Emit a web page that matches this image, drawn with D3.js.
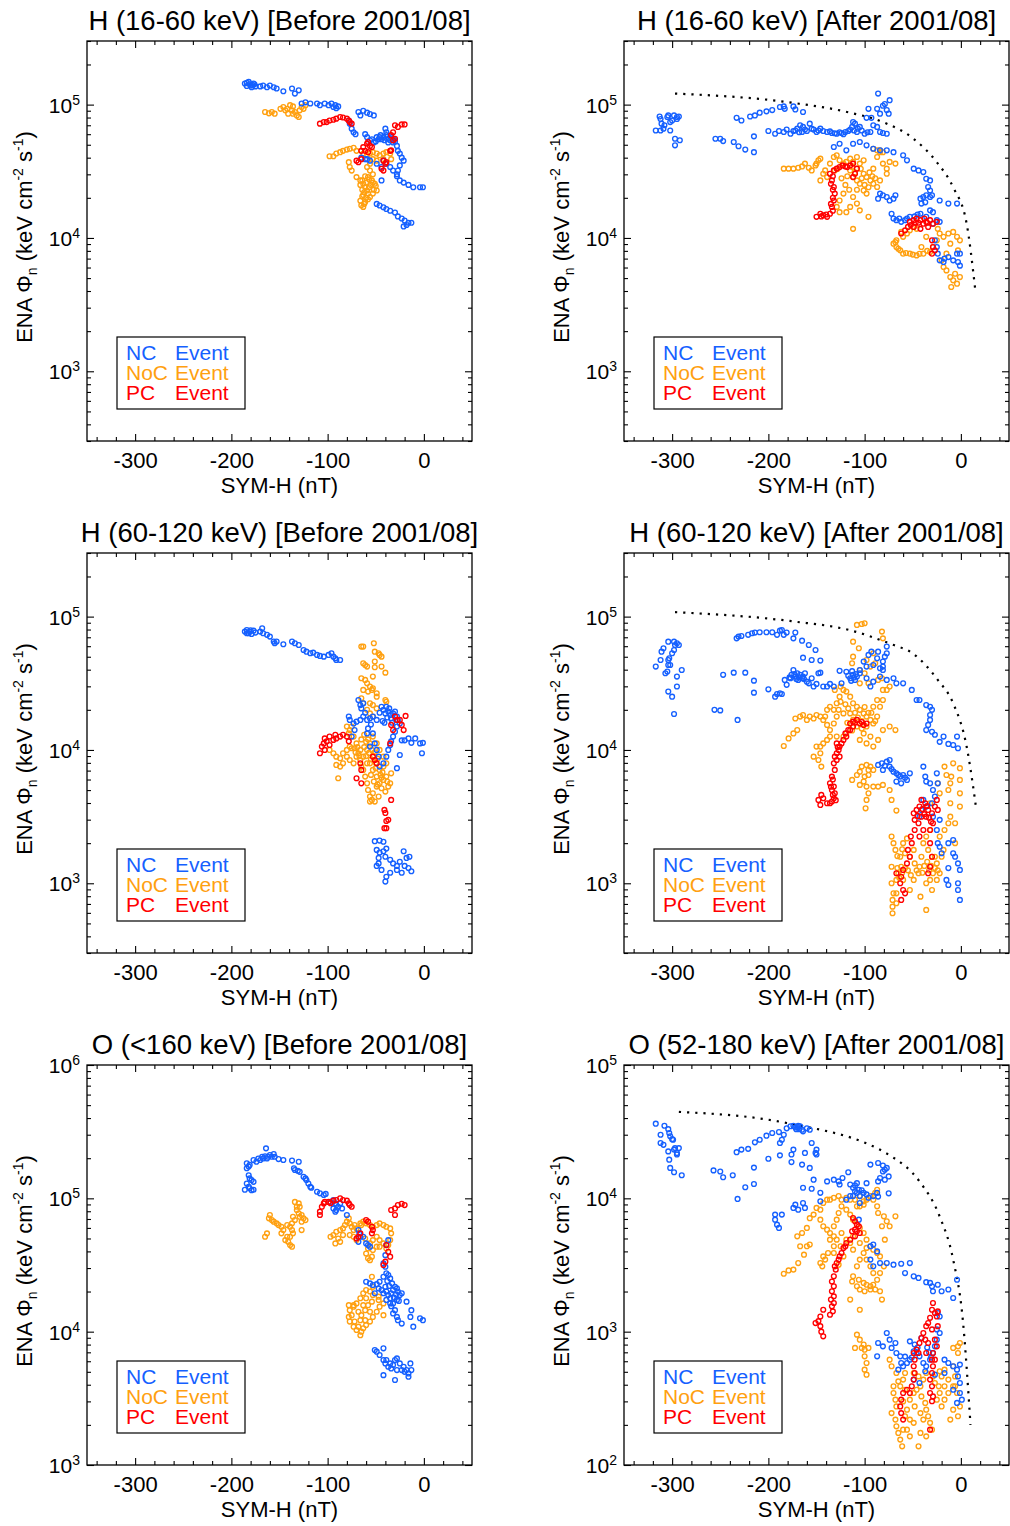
<!DOCTYPE html>
<html>
<head>
<meta charset="utf-8">
<script src="https://cdn.jsdelivr.net/npm/d3@7"></script>
<style>
  body { margin: 0; background: #fff; }
  text { font-family: "Liberation Sans", Arial, Helvetica, sans-serif; }
</style>
</head>
<body>
<svg id="chart"></svg>
<script>
// ---- axis values ----
const symDomain = [-350, 50];
const symTicks = [-300, -200, -100, 0];
const fluxDomainH = [300, 3e5];
const fluxTicksH = [1e3, 1e4, 1e5];
const fluxDomainOBefore = [1e3, 1e6];
const fluxTicksOBefore = [1e3, 1e4, 1e5, 1e6];
const fluxDomainOAfter = [1e2, 1e5];
const fluxTicksOAfter = [1e2, 1e3, 1e4, 1e5];

const legendLabels = ["NC", "NoC", "PC"];
const legendSuffix = "Event";

// ---- upper envelope (dotted) in the "After" panels: [SYM-H, flux] ----
const hLoAfterLimit = [[-297,1.21e5],[-174,1.03e5],[-115,8.7e4],[-81,7.4e4],[-50,5.6e4],[-25,3.7e4],[-8,2.4e4],[6,1.28e4],[15,4.05e3]];
const hHiAfterLimit = [[-297,1.08e5],[-174,9.2e4],[-115,7.9e4],[-72,6.2e4],[-50,5.3e4],[-24,3.35e4],[-8,2.24e4],[6,1.06e4],[16,3.6e3]];
const oAfterLimit = [[-293,4.45e4],[-181,3.67e4],[-72,2.06e4],[-43,1.34e4],[-22,7.3e3],[-8,3.47e3],[2,1.23e3],[10,200]];

// ---- H 16-60 keV, before 2001/08: [SYM-H (nT), ENA flux] ----
const hLoBeforeNC = [[-186,1.44e5],[-184,1.46e5],[-182,1.48e5],[-181,1.42e5],[-180,1.39e5],[-179,1.35e5],[-178,1.4e5],[-177,1.44e5],[-176,1.42e5],[-175,1.37e5],[-184,1.38e5],[-170,1.37e5],[-167,1.39e5],[-163,1.35e5],[-160,1.39e5],[-156,1.35e5],[-153,1.32e5],[-146,1.26e5],[-137,1.32e5],[-134,1.21e5],[-130,1.28e5],[-127,1.02e5],[-123,1.04e5],[-118,1.02e5],[-111,1.02e5],[-108,9.9e4],[-103,1.02e5],[-99,9.9e4],[-96,1.02e5],[-94,9.6e4],[-92,9.9e4],[-91,9.4e4],[-89,9.7e4],
[-68,8.8e4],[-66,8.3e4],[-63,9e4],[-59,8.7e4],[-56,8.5e4],[-52,8.3e4],[-78,7.6e4],[-77,7.2e4],[-75,6.6e4],[-73,6.2e4],[-71,6e4],
[-61,6e4],[-59,5.7e4],[-56,5.4e4],[-54,5.5e4],[-52,5.2e4],[-50,5.3e4],[-49,5.7e4],[-47,5.5e4],[-46,5.7e4],[-44,5.5e4],[-42,5.7e4],[-41,5.4e4],[-40,6.6e4],[-39,6.2e4],[-39,5.9e4],[-37,5.2e4],[-36,5.6e4],[-35,5.4e4],[-33,5.5e4],[-32,5.2e4],[-30,5.3e4],[-28,4.9e4],[-27,4.5e4],[-25,4.3e4],[-23,4e4],[-21,3.8e4],[-25,3.5e4],[-27,3.2e4],[-28,3e4],
[-45,5.9e4],[-38,5.5e4],[-34,5.7e4],[-31,5.5e4],
[-42,3.8e4],[-39,3.6e4],[-35,3.4e4],[-32,3.2e4],[-28,2.9e4],[-25,2.7e4],[-21,2.6e4],[-16,2.5e4],[-11,2.4e4],[-4,2.4e4],[-1,2.4e4],
[-49,1.8e4],[-46,1.75e4],[-42,1.7e4],[-39,1.65e4],[-35,1.6e4],[-30,1.55e4],[-27,1.45e4],[-23,1.4e4],[-20,1.35e4],[-16,1.3e4],[-18,1.25e4],[-13,1.3e4],[-21,1.22e4],
[-65,4e4],[-61,3.9e4],[-56,3.8e4],[-49,3.6e4],[-44,3.4e4],[-59,3.9e4],[-44,2.7e4]];
const hLoBeforeNoC = [[-165,8.8e4],[-161,8.6e4],[-158,8.8e4],[-155,8.55e4],[-149,9.3e4],[-146,9.6e4],[-142,9.3e4],[-139,9.9e4],[-137,9.06e4],[-136,9.7e4],[-134,8.8e4],[-132,8.3e4],[-130,8.07e4],[-129,9.06e4],[-127,9.6e4],[-125,9.3e4],[-123,9.9e4],[-136,8.55e4],[-141,8.55e4],[-144,9.06e4],
[-98,4.1e4],[-94,4.1e4],[-91,4.3e4],[-87,4.4e4],[-84,4.5e4],[-80,4.6e4],[-77,4.67e4],[-73,4.75e4],[-70,4.5e4],
[-63,4.3e4],[-59,4.17e4],[-56,4.3e4],[-53,4.4e4],[-49,4.3e4],[-46,4.17e4],[-42,4.3e4],[-39,4.4e4],[-35,4.3e4],[-34,3.9e4],[-53,3.9e4],[-56,3.6e4],[-49,3.8e4],[-42,3.9e4],
[-78,3.7e4],[-77,3.4e4],[-75,3.2e4],[-70,2.86e4],[-66,2.7e4],[-63,2.55e4],[-61,2.4e4],[-59,2.27e4],[-58,2.15e4],[-63,2.1e4],[-66,1.9e4],[-65,1.76e4],[-63,1.71e4],[-61,1.86e4],[-56,2.03e4],[-53,2.15e4],[-49,2.27e4],[-51,2.55e4],[-54,2.7e4],[-58,2.86e4],[-56,3.2e4],[-53,3e4],[-59,3.4e4],
[-60,2.6e4],[-57,2.4e4],[-62,2.2e4],[-60,2e4],[-55,2.5e4],[-52,2.3e4],[-64,2.3e4],[-62,1.8e4],
[-66,2.5e4],[-64,2.7e4],[-61,2.9e4],[-57,2.75e4],[-53,2.6e4],[-50,2.45e4],[-58,1.95e4],[-64,2.05e4]];
const hLoBeforePC = [[-108,7.2e4],[-104,7.4e4],[-101,7.4e4],[-98,7.6e4],[-94,7.7e4],[-91,7.85e4],[-87,8.07e4],[-84,8e4],[-80,7.85e4],[-78,7.6e4],[-77,7.4e4],[-75,7.2e4],
[-30,7e4],[-27,6.8e4],[-23,7.1e4],[-20,7.1e4],[-32,6.2e4],[-34,5.9e4],[-32,5.4e4],[-30,5.55e4],
[-63,4.8e4],[-61,4.5e4],[-59,5.1e4],[-58,5.24e4],[-56,4.9e4],[-54,4.8e4],[-58,4.4e4],[-65,4.5e4],[-70,3.8e4],[-68,3.7e4],[-65,3.9e4],[-42,3.8e4],[-40,3.6e4],[-39,3.7e4],[-35,4.5e4],[-34,4.54e4],[-44,3.3e4],[-42,3.2e4]];

// ---- H 16-60 keV, after 2001/08 ----
const hLoAfterNC = [[-317,6.4e4],[-313,8.15e4],[-312,7.8e4],[-311,7.2e4],[-309,6.6e4],[-308,7e4],[-312,6.4e4],[-304,8.3e4],[-302,7.4e4],[-300,7.6e4],[-298,8.3e4],[-297,5.55e4],[-295,8.07e4],[-293,8.15e4],[-292,5.4e4],[-297,4.95e4],[-302,6.4e4],[-305,8.07e4],[-295,7.8e4],
[-233,7.96e4],[-228,7.6e4],[-219,8.15e4],[-214,8.3e4],[-209,8.7e4],[-202,8.9e4],[-196,9.1e4],[-188,9.6e4],[-184,9.7e4],[-183,9.3e4],[-174,9.7e4],[-172,9.2e4],[-164,8.8e4],
[-255,5.55e4],[-250,5.55e4],[-247,5.33e4],[-236,5.24e4],[-231,4.87e4],[-224,4.6e4],[-215,4.4e4],[-215,5.78e4],
[-200,6.34e4],[-193,6.05e4],[-189,6.34e4],[-184,6.23e4],[-181,6.5e4],[-177,6.05e4],[-174,6.34e4],[-170,6.6e4],[-167,7e4],[-165,6.23e4],[-164,6.8e4],[-160,6.34e4],[-157,7.2e4],[-153,6.5e4],[-150,6.23e4],[-146,6.6e4],[-143,6.34e4],[-139,6.23e4],[-134,6.12e4],[-129,6.05e4],[-124,6.12e4],[-120,6.23e4],[-117,6.34e4],[-113,6.8e4],[-112,7.4e4],[-110,7.2e4],[-108,6.23e4],[-105,6.8e4],[-100,6.05e4],[-94,6.23e4],[-91,7e4],[-87,6.8e4],[-84,6.23e4],[-81,6.12e4],[-77,6.05e4],
[-172,6.4e4],[-168,6.2e4],[-162,6.5e4],[-155,6.6e4],[-148,6.4e4],[-136,6.3e4],[-131,6.1e4],[-126,6.2e4],[-122,6e4],[-115,6.5e4],[-111,6.4e4],[-107,6.6e4],[-103,6.4e4],[-97,6.2e4],
[-86,1.21e5],[-81,9.8e4],[-79,1.01e5],[-77,9.1e4],[-75,8.55e4],[-74,1.08e5],[-84,8.55e4],[-87,9.3e4],[-93,7.96e4],[-96,9.3e4],[-98,7.96e4],
[-132,4.81e4],[-126,5.09e4],[-119,4.54e4],[-112,5.09e4],[-105,5.24e4],[-98,4.95e4],[-91,4.67e4],[-84,4.54e4],[-77,4.54e4],[-70,4.4e4],[-60,4.17e4],[-56,3.82e4],[-49,3.31e4],[-44,3.21e4],[-39,3.12e4],[-36,2.78e4],[-32,2.7e4],[-34,2.41e4],[-36,2.09e4],[-32,2.03e4],[-22,1.91e4],[-13,1.81e4],[-4,1.81e4],
[-84,2.15e4],[-81,2.09e4],[-77,2.03e4],[-74,1.91e4],[-70,1.97e4],[-68,2.09e4],[-86,1.97e4],
[-42,1.97e4],[-39,2.03e4],[-37,1.85e4],[-41,1.81e4],[-32,2.27e4],[-30,2.09e4],
[-72,1.52e4],[-70,1.4e4],[-67,1.36e4],[-62,1.32e4],[-58,1.36e4],[-53,1.44e4],[-42,1.52e4],[-36,1.44e4],[-32,1.61e4],[-29,1.56e4],[-25,1.36e4],[-22,1.32e4],[-29,1.28e4],[-64,1.4e4],[-56,1.4e4],[-48,1.45e4],[-45,1.5e4],
[-27,9.6e3],[-25,8.55e3],[-24,7.62e3],[-22,6.79e3],[-18,6.6e3],[-17,7e3],[-13,7.19e3],[-8,6.79e3],[-3,6.6e3],[-1,7.62e3],[-4,7.62e3],[-1,6.2e3]];
const hLoAfterNoC = [[-184,3.31e4],[-179,3.31e4],[-174,3.31e4],[-169,3.36e4],[-165,3.44e4],[-162,3.61e4],[-158,3.36e4],[-155,3.21e4],[-151,3.5e4],[-148,3.82e4],[-146,3.93e4],[-150,3.61e4],
[-143,3.03e4],[-139,2.86e4],[-136,3.61e4],[-132,4.05e4],[-129,4.17e4],[-126,3.82e4],[-122,3.61e4],[-119,3.72e4],[-115,3.93e4],[-112,3.72e4],[-108,4.05e4],[-105,3.61e4],[-101,3.82e4],[-146,2.7e4],[-141,3.21e4],[-131,3.21e4],
[-115,3.21e4],[-112,2.86e4],[-108,2.7e4],[-105,2.55e4],[-101,3.03e4],[-98,2.86e4],[-94,2.7e4],[-91,2.55e4],[-87,2.41e4],[-84,2.7e4],[-101,2.27e4],[-112,2.03e4],[-108,1.81e4],[-115,1.71e4],[-105,1.61e4],[-119,1.56e4],[-126,1.56e4],[-129,1.71e4],[-126,1.91e4],[-122,2.15e4],[-98,2.15e4],[-91,3.31e4],[-81,3.61e4],[-77,3.31e4],[-74,3.72e4],[-84,4.4e4],[-91,4.67e4],[-87,4.05e4],[-68,3.61e4],[-87,4.54e4],[-84,4.54e4],[-81,4.4e4],[-96,1.44e4],[-112,1.17e4],[-77,3.03e4],
[-118,2.9e4],[-110,3.1e4],[-103,2.8e4],[-96,2.4e4],[-92,2.9e4],[-120,2.5e4],[-116,2.3e4],[-108,2.3e4],[-100,2.5e4],[-124,2.8e4],[-128,3.3e4],[-113,3.4e4],[-104,3.3e4],[-95,3.1e4],[-89,2.8e4],
[-70,9.06e3],[-67,8.55e3],[-63,8.07e3],[-60,7.62e3],[-53,7.62e3],[-46,7.4e3],[-39,7.62e3],[-32,7.84e3],[-29,8.55e3],[-25,9.6e3],[-22,1.08e4],[-24,1.17e4],[-60,1.02e4],[-56,1.08e4],[-53,1.14e4],[-49,1.21e4],[-46,1.17e4],[-67,9.6e3],[-62,1.11e4],[-41,8.55e3],[-36,1.02e4],
[-65,8.3e3],[-57,7.7e3],[-50,7.5e3],[-43,7.6e3],[-35,8e3],[-68,9.3e3],
[-18,1.02e4],[-13,1.08e4],[-8,1.11e4],[-4,1.02e4],[-1,9.6e3],[-11,9.06e3],[-15,7.62e3],[-18,6.05e3],[-15,5.71e3],[-11,5.09e3],[-8,4.81e3],[-4,4.54e3],[-1,5.09e3],[-10,4.29e3],[-6,5.39e3],[-3,8.07e3],[-20,6.79e3]];
const hLoAfterPC = [[-150,1.44e4],[-146,1.52e4],[-143,1.48e4],[-139,1.44e4],[-136,1.52e4],[-134,1.71e4],[-132,1.91e4],[-131,2.15e4],[-132,2.41e4],[-134,2.7e4],[-136,3.03e4],[-132,3.21e4],[-129,3.31e4],[-126,3.4e4],[-120,3.44e4],[-115,3.5e4],[-112,3.61e4],[-108,3.31e4],[-110,3.03e4],[-112,2.86e4],
[-133,1.6e4],[-135,1.8e4],[-133,2e4],[-133,2.3e4],[-135,2.55e4],[-133,2.9e4],[-145,1.45e4],[-140,1.5e4],[-123,3.5e4],[-118,3.4e4],
[-62,1.08e4],[-58,1.14e4],[-55,1.21e4],[-53,1.32e4],[-49,1.36e4],[-46,1.4e4],[-42,1.36e4],[-39,1.28e4],[-36,1.32e4],[-32,1.36e4],[-29,1.28e4],[-25,1.32e4],[-34,1.21e4],[-42,1.17e4],[-49,1.21e4],[-30,9.6e3],[-29,8.55e3],[-30,7.62e3],[-27,8.07e3],
[-44,1.3e4],[-38,1.4e4],[-35,1.3e4],[-47,1.3e4],[-52,1.25e4]];

// ---- H 60-120 keV, before 2001/08 ----
const hHiBeforeNC = [[-186,7.72e4],[-184,7.94e4],[-182,7.5e4],[-181,7.72e4],[-179,7.41e4],[-177,7.85e4],[-175,7.59e4],[-184,7.5e4],[-180,7.9e4],[-170,7.72e4],[-168,8.17e4],[-167,7.5e4],[-163,7.3e4],[-160,7.08e4],[-156,6.5e4],[-155,6.31e4],[-153,6.5e4],[-146,6.2e4],[-137,6.5e4],[-134,6.31e4],[-130,6.13e4],[-125,5.62e4],[-122,5.46e4],[-118,5.31e4],[-115,5.37e4],[-111,5.16e4],[-108,5.07e4],[-104,5.01e4],[-99,5.16e4],[-96,5.31e4],[-94,5.01e4],[-92,4.87e4],[-91,4.73e4],[-87,4.73e4],
[-68,2.37e4],[-66,2.17e4],[-65,2.05e4],[-63,2.24e4],[-78,1.78e4],[-77,1.68e4],[-73,1.58e4],[-70,1.63e4],[-72,1.41e4],[-75,1.26e4],[-66,1.68e4],[-63,1.78e4],[-59,1.68e4],[-56,1.73e4],[-53,1.78e4],[-49,1.68e4],[-44,2.11e4],[-42,2e4],[-40,1.88e4],[-39,2.11e4],[-37,1.94e4],[-35,1.83e4],[-34,1.73e4],[-32,1.88e4],[-30,1.94e4],[-28,1.78e4],[-27,1.68e4],[-25,1.58e4],[-28,1.5e4],[-30,1.37e4],[-32,1.26e4],[-34,1.16e4],[-35,1.09e4],[-37,1e4],[-39,8.91e3],[-42,7.94e3],[-46,7.5e3],[-47,8.91e3],[-49,1e4],[-51,1.12e4],[-56,1.06e4],[-58,1.45e4],[-59,1.33e4],[-53,1.33e4],[-23,1.18e4],[-20,1.18e4],[-16,1.22e4],[-13,1.13e4],[-9,1.22e4],[-4,1.12e4],[-2,9.44e3],[-1,1.13e4],[-25,9.17e3],[-28,7.3e3],
[-38,1.75e4],[-36,2.05e4],[-41,1.6e4],[-33,1.6e4],[-46,1.9e4],[-43,1.65e4],[-61,1.9e4],[-55,1.55e4],
[-51,2.07e3],[-46,2.09e3],[-42,2.05e3],[-49,1.78e3],[-46,1.7e3],[-42,1.74e3],[-39,1.82e3],[-47,1.55e3],[-40,1.58e3],[-35,1.5e3],[-32,1.41e3],[-28,1.35e3],[-25,1.45e3],[-21,1.74e3],[-18,1.55e3],[-15,1.58e3],[-13,1.23e3],[-16,1.3e3],[-23,1.2e3],[-28,1.26e3],[-35,1.2e3],[-39,1.12e3],[-40,1.03e3],[-44,1.26e3],[-49,1.35e3],[-47,1.41e3],[-20,1.35e3]];
const hHiBeforeNoC = [[-65,5.96e4],[-63,5.96e4],[-52,6.31e4],[-51,5.46e4],[-47,5.31e4],[-46,5.16e4],[-44,5.01e4],[-51,4.6e4],[-63,4.47e4],[-61,4.34e4],[-59,4.22e4],[-51,4.17e4],[-44,4.22e4],[-40,3.8e4],[-53,3.55e4],[-65,3.45e4],[-61,3.35e4],[-59,3.16e4],[-56,2.99e4],[-54,2.82e4],[-53,2.9e4],[-49,2.66e4],[-58,2.74e4],[-63,2.82e4],[-49,2.51e4],[-40,2.37e4],[-39,2.3e4],[-56,2.24e4],[-53,2.17e4],[-49,2.05e4],[-65,2.44e4],[-63,2.24e4],[-59,2e4],[-56,1.88e4],[-53,1.78e4],
[-98,1e4],[-94,9.44e3],[-91,8.91e3],[-87,8.66e3],[-84,9.44e3],[-80,1e4],[-77,1.06e4],[-75,1.5e4],[-73,1.26e4],[-70,1.12e4],[-68,9.44e3],[-66,8.41e3],[-65,7.5e3],[-63,7.08e3],[-61,6.31e3],[-59,5.62e3],[-58,5.01e3],[-56,4.47e3],[-54,4.22e3],[-53,4.73e3],[-49,5.31e3],[-46,5.62e3],[-42,5.96e3],[-39,6.31e3],[-35,5.62e3],[-34,6.68e3],[-39,7.94e3],[-42,8.91e3],[-46,1e4],[-49,1.12e4],[-53,1.26e4],[-56,1.12e4],[-59,1e4],[-63,8.91e3],[-66,1e4],[-70,8.91e3],[-73,7.94e3],[-77,8.41e3],[-80,8.91e3],[-84,7.94e3],[-87,7.5e3],[-91,7.72e3],[-89,6.13e3],[-56,7.94e3],[-53,7.08e3],[-49,6.31e3],[-46,7.08e3],[-42,7.5e3],[-59,7.94e3],[-80,1.5e4],[-77,1.41e4],[-78,1.33e4],[-75,1.03e4],[-72,1.03e4],[-47,4.47e3],[-51,4.1e3],[-56,4.1e3],[-44,5.16e3],[-40,4.87e3],[-37,5.31e3],
[-60,9e3],[-57,9.5e3],[-55,8.5e3],[-52,9e3],[-50,8e3],[-48,8.6e3],[-62,1.05e4],[-58,1.2e4],[-54,1e4],[-51,9.6e3],[-67,9e3],[-71,9.6e3],[-69,1.05e4],[-60,1.15e4],[-62,1.3e4],[-65,1.2e4],[-50,7.3e3],[-45,6.5e3],[-43,6.8e3],[-55,6.5e3],[-52,5.8e3],[-48,5.5e3],[-44,6.2e3],[-38,5.8e3]];
const hHiBeforePC = [[-108,9.44e3],[-106,1.06e4],[-104,1.12e4],[-103,1.22e4],[-101,1.16e4],[-98,1.26e4],[-94,1.19e4],[-92,1.3e4],[-91,1.22e4],[-87,1.26e4],[-84,1.3e4],[-80,1.26e4],[-78,1.16e4],[-98,1.09e4],[-103,1e4],
[-30,1.78e4],[-28,1.68e4],[-25,1.68e4],[-23,1.54e4],[-19,1.8e4],[-21,1.41e4],[-32,1.41e4],[-34,1.54e4],[-35,1.12e4],
[-70,6.13e3],[-66,7.94e3],[-65,7.08e3],[-65,5.62e3],[-53,8.91e3],[-51,8.41e3],[-49,7.94e3],[-34,4.22e3],
[-41,3.55e3],[-40,3.37e3],[-39,2.93e3],[-37,2.99e3],[-41,2.59e3],[-39,2.59e3]];

// ---- H 60-120 keV, after 2001/08 ----
const hHiAfterNC = [[-317,4.22e4],[-312,4.73e4],[-311,5.46e4],[-309,5.79e4],[-307,3.76e4],[-305,3.87e4],[-304,4.34e4],[-304,4.73e4],[-303,4.87e4],[-302,4.34e4],[-300,5.31e4],[-298,5.62e4],[-297,6.13e4],[-298,6.49e4],[-295,6.31e4],[-293,6.13e4],[-304,6.49e4],[-290,3.98e4],[-295,3.55e4],[-295,2.99e4],[-304,2.74e4],[-300,2.51e4],[-298,1.86e4],
[-233,6.87e4],[-231,7.08e4],[-228,7.16e4],[-221,7.3e4],[-217,7.5e4],[-214,7.59e4],[-209,7.63e4],[-202,7.63e4],[-196,7.63e4],[-191,7.3e4],[-188,7.85e4],[-186,7.94e4],[-184,7.3e4],[-181,7.59e4],[-174,6.87e4],[-172,7.59e4],[-165,6.6e4],[-158,6.13e4],[-151,5.62e4],[-164,4.92e4],[-155,4.73e4],[-146,4.68e4],
[-256,2e4],[-250,1.98e4],[-247,3.66e4],[-236,3.8e4],[-232,1.68e4],[-224,3.8e4],[-215,3.31e4],[-215,2.69e4],[-200,2.85e4],[-193,2.51e4],[-191,2.63e4],[-188,2.66e4],[-186,2.63e4],
[-183,3.35e4],[-181,3.08e4],[-177,3.45e4],[-176,3.66e4],[-174,3.98e4],[-172,3.55e4],[-170,3.76e4],[-169,3.35e4],[-167,3.66e4],[-165,3.45e4],[-164,3.55e4],[-162,3.76e4],[-160,3.25e4],[-158,3.16e4],[-155,3.45e4],[-153,2.99e4],[-150,3.13e4],[-148,3.76e4],[-146,3.8e4],[-143,2.99e4],[-139,2.99e4],[-136,3.13e4],[-132,2.99e4],[-126,3.92e4],[-124,3.16e4],[-119,3.86e4],[-115,3.45e4],[-112,3.66e4],[-110,3.35e4],[-108,3.55e4],[-105,3.76e4],[-98,3.45e4],[-94,2.99e4],[-91,3.25e4],[-84,3.55e4],[-81,3.98e4],[-77,3.35e4],[-70,3.45e4],[-67,3.16e4],
[-178,3.5e4],[-173,3.7e4],[-168,3.5e4],[-171,3.4e4],[-163,3.4e4],[-117,3.6e4],[-113,3.9e4],[-111,3.5e4],[-109,3.7e4],[-114,3.3e4],
[-105,3.98e4],[-101,4.6e4],[-96,5.16e4],[-91,4.34e4],[-87,4.87e4],[-86,5.46e4],[-84,4.1e4],[-81,4.6e4],[-79,5.01e4],[-77,5.31e4],[-77,5.96e4],[-81,4.22e4],[-93,5.46e4],[-98,4.22e4],
[-60,3.16e4],[-51,2.82e4],[-46,2.37e4],[-43,2.37e4],[-36,2.17e4],[-32,2.11e4],[-30,2e4],[-32,1.83e4],[-32,1.68e4],[-34,1.54e4],[-36,1.41e4],[-30,1.37e4],[-27,1.3e4],[-22,1.15e4],[-18,1.26e4],[-13,1.11e4],[-8,1.09e4],[-3,1.03e4],[-4,1.26e4],
[-86,7.72e3],[-82,7.94e3],[-81,7.08e3],[-77,8.17e3],[-74,7.5e3],[-70,6.87e3],[-67,6.68e3],[-63,6.31e3],[-60,6.49e3],[-56,5.96e3],[-53,6.68e3],[-74,8.41e3],[-67,5.79e3],[-62,5.62e3],[-79,7.6e3],[-72,7.2e3],[-65,6.5e3],[-58,6.2e3],
[-39,7.5e3],[-37,6.31e3],[-36,5.79e3],[-32,5.62e3],[-29,5.01e3],[-25,6.68e3],[-24,5.62e3],[-27,4.47e3],[-30,3.98e3],[-36,3.76e3],[-39,4.22e3],[-41,3.55e3],[-43,3.16e3],[-29,3.16e3],[-22,2.99e3],[-25,2.51e3],[-22,1.88e3],[-24,2e3],[-20,1.68e3],[-13,2e3],[-8,2.11e3],[-8,1.68e3],[-6,1.58e3],[-3,1.41e3],[-1,1.26e3],[-13,1.3e3],[-15,1.06e3],[-13,970],[-3,1e3],[-1,750],[-3,891]];
const hHiAfterNoC = [[-108,8.66e4],[-103,8.8e4],[-100,8.91e4],[-112,6.49e4],[-106,5.79e4],[-82,7.72e4],[-81,6.87e4],[-91,5.31e4],[-89,4.47e4],[-98,4.73e4],[-105,3.98e4],[-100,3.76e4],[-94,4.22e4],[-86,3.35e4],[-82,3.45e4],[-112,5.01e4],[-113,4.47e4],[-105,3.16e4],[-96,3.16e4],
[-184,1.07e4],[-179,1.22e4],[-174,1.33e4],[-170,1.41e4],[-172,1.72e4],[-167,1.78e4],[-164,1.83e4],[-160,1.68e4],[-157,1.78e4],[-153,1.72e4],[-150,1.83e4],[-146,1.78e4],[-143,1.68e4],[-139,1.54e4],[-136,1.41e4],[-132,1.58e4],[-129,1.78e4],[-132,2e4],[-129,2.24e4],[-126,2.51e4],[-122,2.82e4],[-119,2.74e4],[-115,2.51e4],[-112,2.24e4],[-108,2.11e4],[-105,2e4],[-101,1.88e4],[-98,1.78e4],[-94,1.68e4],[-91,1.58e4],[-87,1.78e4],[-84,2.11e4],[-81,2.37e4],[-77,2.82e4],[-74,2.99e4],[-81,2.82e4],[-87,2.37e4],[-91,2.11e4],[-98,1.5e4],[-101,1.33e4],[-105,1.19e4],[-98,1.12e4],[-94,1.26e4],[-91,1.06e4],[-86,1.19e4],[-81,1.41e4],[-74,1.5e4],[-68,1.41e4],[-112,1.68e4],[-115,1.58e4],[-119,1.33e4],[-122,1.26e4],[-129,1.26e4],[-136,1.26e4],[-139,1.19e4],[-143,1.12e4],[-146,1.06e4],[-146,9.44e3],[-148,8.41e3],[-145,7.5e3],[-153,8.91e3],[-150,1.06e4],[-122,1.88e4],[-115,1.88e4],[-125,2.99e4],[-131,2.82e4],[-136,2.11e4],[-139,2e4],[-141,1.78e4],
[-120,2.2e4],[-117,2.05e4],[-110,1.9e4],[-107,1.75e4],[-103,1.65e4],[-96,1.9e4],[-100,2.1e4],[-93,1.9e4],[-89,1.65e4],[-125,2.3e4],[-127,2e4],[-118,1.6e4],[-108,1.5e4],[-113,1.4e4],[-103,1.45e4],
[-113,5.96e3],[-108,6.49e3],[-105,6.87e3],[-103,7.5e3],[-98,7.72e3],[-96,7.08e3],[-94,7.5e3],[-100,6.31e3],[-101,5.79e3],[-105,5.47e3],[-98,5.31e3],[-96,4.73e3],[-98,4.22e3],[-99,3.65e3],[-91,5.31e3],[-86,5.31e3],[-81,5.47e3],[-74,5.01e3],[-72,4.22e3],[-67,3.51e3],[-91,7.08e3],[-96,6.49e3],
[-72,2.24e3],[-70,2e3],[-68,1.78e3],[-72,1.33e3],[-72,1e3],[-70,841],[-71,750],[-71,668],[-71,596],[-67,841],[-67,1.06e3],[-65,1.19e3],[-63,1.58e3],[-60,2e3],[-56,2.17e3],[-58,1.68e3],[-62,1.33e3],[-53,1.58e3],[-49,1.78e3],[-48,1.41e3],[-49,1.06e3],[-44,1.19e3],[-43,1.33e3],[-41,1.58e3],[-39,2e3],[-36,2.24e3],[-32,2.51e3],[-34,1.78e3],[-30,1.58e3],[-27,1.58e3],[-25,1.41e3],[-29,1.19e3],[-32,1.06e3],[-36,1e3],[-30,891],[-25,1.06e3],[-22,1.19e3],[-20,1.58e3],[-18,1.78e3],[-22,2.24e3],[-17,2.51e3],[-13,2.82e3],[-11,3.16e3],[-11,3.98e3],[-13,5.01e3],[-11,5.62e3],[-10,6.31e3],[-15,6.49e3],[-17,7.5e3],[-8,7.94e3],[-1,7.3e3],[-1,5.96e3],[-1,4.73e3],[-1,3.76e3],[-6,2.82e3],[-6,2e3],[-22,4.73e3],[-24,5.62e3],[-32,3.98e3],[-36,631],[-42,794],[-53,891],[-60,1.06e3],[-67,708],
[-66,1.3e3],[-64,1.1e3],[-61,1.2e3],[-58,1.3e3],[-55,1.25e3],[-52,1.15e3],[-46,1.25e3],[-40,1.2e3],[-38,1.35e3],[-35,1.45e3],[-33,1.25e3],[-31,1.35e3],[-27,1.3e3],[-24,1.25e3],[-66,1.6e3],[-61,1.8e3]];
const hHiAfterPC = [[-115,1.58e4],[-112,1.63e4],[-108,1.68e4],[-105,1.58e4],[-101,1.54e4],[-98,1.58e4],[-112,1.5e4],[-117,1.41e4],[-119,1.26e4],[-122,1.19e4],[-124,1.12e4],[-126,1.06e4],[-127,1e4],[-129,9.44e3],[-131,8.91e3],[-129,8.41e3],[-132,7.94e3],[-131,7.08e3],[-134,6.31e3],[-136,5.62e3],[-132,5.31e3],[-134,5.01e3],[-131,4.73e3],[-132,4.34e3],[-136,3.98e3],[-139,3.98e3],[-146,3.87e3],[-148,4.22e3],[-145,4.6e3],[-143,4.34e3],[-129,1.12e4],[-115,1.41e4],[-120,1.33e4],[-126,8.91e3],
[-133,6e3],[-135,5.3e3],[-133,4.6e3],[-130,4.2e3],[-134,4.1e3],[-128,1.05e4],[-110,1.6e4],[-103,1.62e4],
[-49,3.35e3],[-48,2.99e3],[-46,3.55e3],[-43,3.76e3],[-41,4.22e3],[-37,3.98e3],[-34,3.55e3],[-30,3.35e3],[-27,3.76e3],[-25,4.22e3],[-29,2.82e3],[-32,2.51e3],[-32,2e3],[-30,1.58e3],[-32,1.33e3],[-39,2.51e3],[-43,2.24e3],[-48,2.51e3],[-51,2e3],[-53,1.58e3],[-55,1.78e3],[-56,1.41e3],[-60,1.26e3],[-62,1.12e3],[-63,1e3],[-67,1.19e3],[-60,891],[-62,750],[-58,841],[-36,3.16e3],[-41,3.16e3],[-44,2.82e3],[-52,2.24e3],[-24,3.55e3],[-34,1.19e3],
[-40,3.6e3],[-35,3.8e3],[-45,3.2e3],[-38,3.3e3],[-33,3.1e3],[-31,2.9e3]];

// ---- O <160 keV, before 2001/08 ----
const oBeforeNC = [[-184,1.83e5],[-182,1.73e5],[-184,1.68e5],[-181,1.78e5],[-177,1.94e5],[-174,1.88e5],[-172,1.99e5],[-170,1.94e5],[-168,2.05e5],[-167,1.99e5],[-165,2.07e5],[-163,1.99e5],[-162,2.05e5],[-160,2.11e5],[-158,2.05e5],[-156,2.15e5],[-155,2.05e5],[-164,2.37e5],[-151,1.97e5],[-146,1.94e5],[-137,1.92e5],[-130,1.88e5],[-135,1.68e5],[-134,1.63e5],[-131,1.61e5],[-129,1.58e5],[-125,1.45e5],[-123,1.41e5],[-122,1.37e5],[-120,1.29e5],[-118,1.22e5],[-117,1.2e5],[-111,1.12e5],[-108,1.09e5],[-104,1.06e5],[-102,1.08e5],
[-182,1.49e5],[-181,1.41e5],[-179,1.37e5],[-177,1.33e5],[-184,1.29e5],[-182,1.22e5],[-181,1.19e5],[-179,1.15e5],[-186,1.16e5],[-177,1.16e5],
[-97,9.4e4],[-94,9.7e4],[-92,9.16e4],[-91,8.9e4],[-89,8.65e4],[-94,8.4e4],[-92,7.94e4],[-91,8.17e4],[-87,9.16e4],[-85,8.4e4],[-80,7.5e4],
[-68,5.78e4],[-67,5.46e4],[-66,5.15e4],[-68,4.72e4],[-60,4.59e4],[-58,4.46e4],[-56,4.34e4],[-63,5.15e4],[-37,4.86e4],[-39,4.46e4],[-40,3.75e4],[-42,3.25e4],[-40,3.07e4],
[-60,2.37e4],[-56,2.3e4],[-53,2.24e4],[-49,2.27e4],[-46,2.37e4],[-42,2.58e4],[-39,2.74e4],[-37,2.66e4],[-35,2.51e4],[-40,2.17e4],[-44,2.05e4],[-42,1.94e4],[-39,2e4],[-37,1.88e4],[-35,1.78e4],[-34,1.94e4],[-32,2.05e4],[-30,2.17e4],[-28,2.11e4],[-27,2e4],[-25,1.88e4],[-23,1.94e4],[-28,1.73e4],[-32,1.63e4],[-35,1.63e4],[-39,1.73e4],[-30,1.45e4],[-32,1.37e4],[-28,1.29e4],[-27,1.22e4],[-23,1.15e4],[-18,1.68e4],[-13,1.45e4],[-14,1.29e4],[-11,1.09e4],[-4,1.26e4],[-1,1.22e4],[-51,1.94e4],[-47,2.11e4],
[-36,2.2e4],[-33,2.3e4],[-38,2.4e4],[-31,1.8e4],[-29,1.9e4],[-26,1.7e4],[-34,1.55e4],
[-51,7.28e3],[-49,7.08e3],[-42,7.5e3],[-46,6.68e3],[-42,6.12e3],[-39,6.12e3],[-40,5.78e3],[-37,5.46e3],[-34,5.3e3],[-32,5.62e3],[-30,6.12e3],[-28,6.3e3],[-25,5.78e3],[-21,5.46e3],[-18,5.15e3],[-14,5.78e3],[-13,5.15e3],[-16,4.86e3],[-20,5e3],[-23,5.15e3],[-28,5.15e3],[-42,4.72e3],[-30,4.34e3],[-16,4.59e3],[-35,5.78e3]];
const oBeforeNoC = [[-134,9.4e4],[-130,9.16e4],[-129,8.65e4],[-132,8.17e4],[-130,7.71e4],[-127,7.5e4],[-125,7.08e4],[-123,6.87e4],[-127,6.68e4],[-129,7.28e4],[-136,7.28e4],[-134,6.87e4],[-160,7.5e4],[-161,7.08e4],[-158,6.87e4],[-156,6.68e4],[-153,6.49e4],[-151,6.3e4],[-148,6.12e4],[-146,5.78e4],[-142,6.3e4],[-139,6.12e4],[-137,5.78e4],[-136,5.46e4],[-139,5.15e4],[-142,5.15e4],[-141,4.72e4],[-139,4.46e4],[-137,4.34e4],[-144,4.86e4],[-165,5.15e4],[-163,5.46e4],[-148,5.46e4],[-137,6.49e4],[-132,8.65e4],[-127,5.78e4],
[-97,5.15e4],[-94,5.3e4],[-91,5.62e4],[-87,5.78e4],[-84,5.95e4],[-82,6.3e4],[-80,6.68e4],[-78,7.08e4],[-77,6.49e4],[-75,6.12e4],[-73,5.78e4],[-72,6.3e4],[-70,5.95e4],[-66,6.49e4],[-65,6.3e4],[-63,6.68e4],[-60,6.49e4],[-56,6.3e4],[-53,6.12e4],[-49,6.3e4],[-46,6.49e4],[-42,6.3e4],[-39,6.12e4],[-35,5.95e4],[-34,5.46e4],[-35,4.86e4],[-37,4.46e4],[-39,4.21e4],[-42,4.59e4],[-46,4.86e4],[-49,5.15e4],[-53,4.86e4],[-56,4.59e4],[-58,4.21e4],[-60,3.86e4],[-58,3.55e4],[-56,3.44e4],[-54,3.65e4],[-53,4.09e4],[-49,4.34e4],[-46,4.34e4],[-61,5e4],[-70,4.86e4],[-73,5.15e4],[-77,5.3e4],[-84,5.3e4],[-89,5e4],[-92,4.59e4],[-87,4.72e4],
[-78,1.58e4],[-77,1.45e4],[-75,1.33e4],[-78,1.29e4],[-77,1.19e4],[-73,1.09e4],[-70,1.03e4],[-66,9.4e3],[-65,1e4],[-63,1.06e4],[-60,1.12e4],[-56,1.19e4],[-53,1.29e4],[-49,1.41e4],[-46,1.54e4],[-42,1.63e4],[-47,1.73e4],[-53,1.88e4],[-56,2e4],[-60,2.05e4],[-63,1.94e4],[-66,1.78e4],[-70,1.63e4],[-73,1.54e4],[-68,1.41e4],[-65,1.33e4],[-61,1.45e4],[-58,1.58e4],[-54,1.68e4],[-60,1.78e4],[-63,1.58e4],[-66,1.22e4],[-61,1.22e4],[-56,1.41e4],[-54,2.58e4],[-53,2.17e4],[-47,1.83e4],[-68,1.09e4],[-72,1.19e4],[-42,1.33e4],[-73,1.58e4]];
const oBeforePC = [[-108,7.94e4],[-106,8.65e4],[-104,9.16e4],[-103,9.4e4],[-99,9.4e4],[-97,9.2e4],[-94,9.6e4],[-91,9.7e4],[-87,1e5],[-84,9.7e4],[-80,9.6e4],[-78,9.16e4],[-77,8.9e4],[-75,8.65e4],[-108,7.5e4],
[-34,8.17e4],[-30,8.4e4],[-27,8.9e4],[-23,9.1e4],[-20,8.9e4],[-30,7.5e4],
[-60,6.87e4],[-58,6.68e4],[-54,6.12e4],[-53,5.78e4],[-54,5.46e4],[-66,5.46e4],[-68,5.15e4],[-70,5e4],[-39,4.46e4],[-37,3.97e4],[-40,3.35e4],[-42,3.16e4],[-35,3.65e4]];

// ---- O 52-180 keV, after 2001/08 ----
const oAfterNC = [[-317,3.63e4],[-312,3e4],[-312,2.6e4],[-309,2.52e4],[-308,3.5e4],[-304,3.3e4],[-303,3.09e4],[-302,2.92e4],[-300,2.78e4],[-299,2.75e4],[-304,2.25e4],[-297,2.38e4],[-295,2.19e4],[-293,2.38e4],[-303,1.95e4],[-302,1.69e4],[-298,1.57e4],[-290,1.49e4],[-295,2.13e4],[-298,2.32e4],
[-233,2.22e4],[-228,2.32e4],[-221,2.35e4],[-214,2.63e4],[-209,2.75e4],[-202,2.95e4],[-196,3.09e4],[-189,3.14e4],[-188,2.6e4],[-184,3e4],[-186,2.75e4],[-181,3.35e4],[-177,3.47e4],[-174,3.5e4],[-170,3.43e4],[-167,3.47e4],[-165,3.27e4],[-164,3.18e4],[-160,3.35e4],[-157,3.27e4],[-155,2.6e4],[-150,2.32e4],[-150,2.13e4],[-151,2.19e4],[-162,2.19e4],[-174,2.32e4],[-176,2.13e4],[-176,1.87e4],[-188,2.1e4],[-200,1.98e4],[-165,1.79e4],[-157,1.69e4],[-172,3.4e4],[-169,3.5e4],[-171,3.3e4],[-168,3.3e4],
[-257,1.62e4],[-250,1.59e4],[-247,1.44e4],[-237,1.49e4],[-224,1.21e4],[-215,1.28e4],[-215,1.7e4],[-232,9.9e3],[-193,6.92e3],[-191,6.35e3],[-189,6e3],[-193,7.55e3],[-186,7.55e3],[-174,8.47e3],[-172,8.97e3],[-169,8.22e3],[-164,9.23e3],[-162,8.47e3],[-146,9.5e3],[-155,1.18e4],[-164,1.2e4],[-146,1.1e4],[-153,1.38e4],[-139,1.34e4],[-132,1.38e4],[-127,1.34e4],[-126,1.27e4],[-123,1.42e4],[-117,1.57e4],
[-115,1.27e4],[-112,1.2e4],[-108,1.3e4],[-110,1.13e4],[-106,1.16e4],[-105,1.04e4],[-112,1.04e4],[-119,9.77e3],[-115,1.04e4],[-105,9.23e3],[-98,1.3e4],[-98,1.07e4],[-96,1.01e4],[-91,1.04e4],[-87,1.1e4],[-86,1.34e4],[-84,1.42e4],[-81,1.59e4],[-79,1.64e4],[-77,1.69e4],[-81,1.76e4],[-86,1.84e4],[-94,1.79e4],[-75,1.46e4],[-79,1.38e4],[-75,1.09e4],[-86,1.03e4],[-110,1.25e4],[-103,1.15e4],[-101,1.1e4],[-108,1.1e4],
[-94,3.47e3],[-91,3.09e3],[-84,3.27e3],[-77,3.27e3],[-70,3.18e3],[-62,3.23e3],[-53,3.27e3],[-58,2.75e3],[-49,2.6e3],[-44,2.53e3],[-36,2.35e3],[-32,2.32e3],[-30,2.19e3],[-29,2.01e3],[-24,2.25e3],[-20,2.01e3],[-13,2.07e3],[-8,1.79e3],[-4,2.45e3],[-106,6.92e3],[-94,4.37e3],[-91,4.5e3],[-87,4e3],
[-86,822],[-81,776],[-77,977],[-74,871],[-72,755],[-68,822],[-67,692],[-63,653],[-62,582],[-60,550],[-56,582],[-53,617],[-53,846],[-49,712],[-46,692],[-43,653],[-39,582],[-36,550],[-32,617],[-29,692],[-27,776],[-25,871],[-22,977],[-25,1.04e3],[-22,1.3e3],[-24,1.38e3],[-17,617],[-13,582],[-8,550],[-4,519],[-3,462],[-1,412],[-1,347],[1,309],[-4,292],[-8,367],[-17,490],[-27,476],[-37,505],[-43,412],[-49,437],[-1,566],[-87,653],[-65,519],[-41,897],
[-33,700],[-31,640],[-35,760],[-45,760],[-51,640],[-58,650],[-48,800]];
const oAfterNoC = [[-184,2.72e3],[-179,2.88e3],[-174,2.92e3],[-169,3.27e3],[-163,3.78e3],[-160,4.37e3],[-157,4.5e3],[-167,4.37e3],[-170,5.19e3],[-165,5.5e3],[-160,6e3],[-157,7.1e3],[-153,7.55e3],[-150,8.47e3],[-146,8.22e3],[-143,9.23e3],[-139,9.77e3],[-136,9.77e3],[-132,1.01e4],[-127,1.04e4],[-124,9.77e3],[-119,1.01e4],[-115,9.77e3],
[-146,6.92e3],[-143,6.17e3],[-139,5.82e3],[-136,4.9e3],[-132,4.37e3],[-138,3.89e3],[-143,3.67e3],[-146,3.27e3],[-144,3.09e3],[-141,3.47e3],[-136,5.5e3],[-132,6.17e3],[-129,6.92e3],[-127,7.76e3],[-124,8.71e3],[-119,8.22e3],[-115,7.55e3],[-112,6.92e3],[-108,6.35e3],[-105,6e3],[-101,5.5e3],[-98,4.9e3],[-94,4.37e3],[-91,4.12e3],[-87,3.89e3],[-84,3.67e3],[-80,3.09e3],[-84,2.75e3],[-87,2.45e3],[-91,2.25e3],[-94,2.19e3],[-98,2.25e3],[-101,2.32e3],[-106,2.45e3],[-112,2.6e3],[-113,2.38e3],[-108,2.19e3],[-105,2.07e3],[-100,2.01e3],[-94,2.07e3],[-89,2.07e3],[-84,2.01e3],[-82,1.74e3],[-105,1.46e3],[-115,1.74e3],[-108,3.09e3],[-105,3.47e3],[-101,3.89e3],[-98,3.47e3],[-94,3.09e3],[-91,2.75e3],[-112,4.12e3],[-115,4.62e3],[-119,4.9e3],[-112,5.19e3],[-105,4.62e3],[-98,4.25e3],[-124,5.5e3],[-129,4.9e3],[-132,3.89e3],[-87,8.71e3],[-86,7.76e3],[-80,7.33e3],[-77,6.73e3],[-74,6.17e3],[-68,7.33e3],[-82,6.17e3],[-79,4.9e3],[-91,9.77e3],[-89,1.1e4],[-94,1.04e4],[-98,9.77e3],[-101,8.97e3],[-105,8.71e3],[-108,8.71e3],[-110,9.77e3],[-105,1.04e4],[-101,9.5e3],[-87,1.16e4],[-132,5.19e3],[-125,4.37e3],[-122,3.67e3],[-127,3.18e3],
[-108,950],[-105,871],[-101,800],[-100,733],[-100,653],[-98,582],[-100,519],[-98,476],[-110,755],[-96,755],[-103,755],[-67,490],[-65,424],[-63,389],[-70,347],[-68,309],[-67,275],[-72,245],[-68,219],[-67,195],[-65,174],[-63,155],[-61,138],[-60,184],[-58,232],[-56,260],[-60,300],[-53,309],[-49,347],[-46,367],[-42,389],[-41,327],[-37,292],[-36,260],[-34,232],[-32,207],[-30,184],[-36,164],[-42,174],[-44,138],[-49,207],[-53,219],[-56,184],[-53,164],[-39,219],[-25,309],[-22,347],[-23,389],[-20,275],[-17,389],[-13,347],[-8,389],[-4,347],[-1,275],[-3,232],[-8,260],[-11,219],[-17,309],[-20,462],[-17,519],[-13,437],[-8,550],[-6,462],[-3,776],[-1,822],[-3,692],[-8,755],[-6,389],[-58,490],[-60,437],[-58,367],[-49,490],[-44,462],[-39,437],[-36,490],[-22,505],[-29,462],[-27,412],[-42,245],[-48,275],[-74,617],[-72,550],[-70,389]];
const oAfterPC = [[-112,7.12e3],[-110,6.73e3],[-108,6.35e3],[-106,6.17e3],[-110,5.82e3],[-113,5.66e3],[-108,5.66e3],[-115,4.9e3],[-119,4.62e3],[-120,4.37e3],[-122,4.25e3],[-124,3.89e3],[-126,3.67e3],[-127,3.47e3],[-129,3.27e3],[-131,3.09e3],[-130,2.92e3],[-132,2.6e3],[-134,2.38e3],[-132,2.19e3],[-134,2.01e3],[-132,1.84e3],[-135,1.74e3],[-132,1.64e3],[-134,1.55e3],[-133,1.42e3],[-136,1.34e3],[-143,1.46e3],[-146,1.3e3],[-148,1.2e3],[-146,1.1e3],[-145,1e3],[-143,923],[-151,1.16e3],[-105,5.5e3],[-110,5.19e3],
[-29,1.64e3],[-30,1.46e3],[-27,1.38e3],[-25,1.3e3],[-24,1.42e3],[-32,1.27e3],[-34,1.16e3],[-36,1.1e3],[-30,1.04e3],[-39,977],[-41,897],[-37,871],[-34,822],[-27,871],[-25,776],[-29,692],[-30,617],[-29,550],[-30,490],[-32,437],[-30,389],[-32,347],[-29,327],[-30,301],[-49,692],[-48,617],[-49,550],[-48,490],[-49,437],[-51,389],[-53,347],[-56,367],[-60,347],[-62,309],[-63,275],[-62,245],[-60,219],[-32,184],[-43,822],[-44,692],[-36,692],[-27,617],[-24,1.1e3],[-46,733]];

// ---- panels ----
const panels = [
  { title: "H (16-60 keV) [Before 2001/08]", col: 0, row: 0, yDomain: fluxDomainH, yTicks: fluxTicksH, nc: hLoBeforeNC, noc: hLoBeforeNoC, pc: hLoBeforePC, limit: null },
  { title: "H (16-60 keV) [After 2001/08]", col: 1, row: 0, yDomain: fluxDomainH, yTicks: fluxTicksH, nc: hLoAfterNC, noc: hLoAfterNoC, pc: hLoAfterPC, limit: hLoAfterLimit },
  { title: "H (60-120 keV) [Before 2001/08]", col: 0, row: 1, yDomain: fluxDomainH, yTicks: fluxTicksH, nc: hHiBeforeNC, noc: hHiBeforeNoC, pc: hHiBeforePC, limit: null },
  { title: "H (60-120 keV) [After 2001/08]", col: 1, row: 1, yDomain: fluxDomainH, yTicks: fluxTicksH, nc: hHiAfterNC, noc: hHiAfterNoC, pc: hHiAfterPC, limit: hHiAfterLimit },
  { title: "O (<160 keV) [Before 2001/08]", col: 0, row: 2, yDomain: fluxDomainOBefore, yTicks: fluxTicksOBefore, nc: oBeforeNC, noc: oBeforeNoC, pc: oBeforePC, limit: null },
  { title: "O (52-180 keV) [After 2001/08]", col: 1, row: 2, yDomain: fluxDomainOAfter, yTicks: fluxTicksOAfter, nc: oAfterNC, noc: oAfterNoC, pc: oAfterPC, limit: oAfterLimit }
];

const colors = { nc: "#1560ff", noc: "#ffa010", pc: "#ff0000" };
const colX = [87, 624];
const rowY = [41, 553, 1065];
const W = 385, H = 400;

const svg = d3.select("#chart")
    .attr("width", 1010)
    .attr("height", 1526);

function styleAxis(g, size) {
    g.select(".domain").remove();
    g.selectAll(".tick line").attr("stroke", "#000").attr("stroke-width", 1.1);
    g.attr("font-family", null).attr("font-size", size);
    g.selectAll(".tick text").attr("fill", "#000");
}

function drawPanel(p) {
    const g = svg.append("g").attr("transform", `translate(${colX[p.col]},${rowY[p.row]})`);

    const x = d3.scaleLinear().domain(symDomain).range([0, W]);
    const y = d3.scaleLog().domain(p.yDomain).range([H, 0]);

    const xMinor = d3.range(-340, 50, 20).filter(v => !symTicks.includes(v));
    const yMinor = y.ticks().filter(v => !p.yTicks.includes(v));

    // envelope
    if (p.limit) {
        const line = d3.line()
            .x(d => x(d[0]))
            .y(d => y(d[1]))
            .curve(d3.curveMonotoneX);
        g.append("path")
            .datum(p.limit)
            .attr("d", line)
            .attr("fill", "none")
            .attr("stroke", "#000")
            .attr("stroke-width", 2.2)
            .attr("stroke-dasharray", "2.2,6");
    }

    // points: NoC, NC, PC
    [["noc", p.noc], ["nc", p.nc], ["pc", p.pc]].forEach(([key, pts]) => {
        g.append("g").selectAll("circle")
            .data(pts)
            .enter().append("circle")
            .attr("cx", d => x(d[0]))
            .attr("cy", d => y(d[1]))
            .attr("r", 2.4)
            .attr("fill", "none")
            .attr("stroke", colors[key])
            .attr("stroke-width", 1.35);
    });

    // box
    g.append("rect")
        .attr("width", W).attr("height", H)
        .attr("fill", "none")
        .attr("stroke", "#000")
        .attr("stroke-width", 1.3);

    // x axes (plain hyphen for negative labels)
    const xb = g.append("g").attr("transform", `translate(0,${H})`)
        .call(d3.axisBottom(x).tickValues(symTicks).tickFormat(d => String(d))
            .tickSizeInner(-7).tickSizeOuter(0).tickPadding(11));
    styleAxis(xb, 22);
    const xbm = g.append("g").attr("transform", `translate(0,${H})`)
        .call(d3.axisBottom(x).tickValues(xMinor).tickSize(-4).tickFormat(""));
    styleAxis(xbm, 10);
    const xt = g.append("g")
        .call(d3.axisTop(x).tickValues(symTicks).tickSize(-7).tickFormat(""));
    styleAxis(xt, 10);
    const xtm = g.append("g")
        .call(d3.axisTop(x).tickValues(xMinor).tickSize(-4).tickFormat(""));
    styleAxis(xtm, 10);

    // y axes
    const yl = g.append("g")
        .call(d3.axisLeft(y).tickValues(p.yTicks).tickSizeInner(-7).tickSizeOuter(0).tickPadding(7));
    styleAxis(yl, 21);
    yl.selectAll(".tick text")
        .text(null)
        .attr("dy", "0.36em")
        .each(function(d) {
            const t = d3.select(this);
            t.append("tspan").text("10");
            t.append("tspan").attr("dy", "-0.58em").attr("font-size", 14).text(Math.round(Math.log10(d)));
        });
    const ylm = g.append("g")
        .call(d3.axisLeft(y).tickValues(yMinor).tickSize(-4).tickFormat(""));
    styleAxis(ylm, 10);
    const yr = g.append("g").attr("transform", `translate(${W},0)`)
        .call(d3.axisRight(y).tickValues(p.yTicks).tickSize(-7).tickFormat(""));
    styleAxis(yr, 10);
    const yrm = g.append("g").attr("transform", `translate(${W},0)`)
        .call(d3.axisRight(y).tickValues(yMinor).tickSize(-4).tickFormat(""));
    styleAxis(yrm, 10);

    // title
    g.append("text")
        .attr("x", W / 2)
        .attr("y", -11)
        .attr("text-anchor", "middle")
        .attr("font-size", 27.5)
        .text(p.title);

    // x label
    g.append("text")
        .attr("x", W / 2)
        .attr("y", H + 52)
        .attr("text-anchor", "middle")
        .attr("font-size", 22)
        .text("SYM-H (nT)");

    // y label
    const yt = g.append("text")
        .attr("transform", `translate(-55,${H / 2 - 4}) rotate(-90)`)
        .attr("text-anchor", "middle")
        .attr("font-size", 22);
    yt.append("tspan").text("ENA Φ");
    yt.append("tspan").attr("font-size", 14).attr("dy", 5).text("n");
    yt.append("tspan").attr("dy", -5).text(" (keV cm");
    yt.append("tspan").attr("font-size", 14).attr("dy", -9).text("-2");
    yt.append("tspan").attr("dy", 9).text(" s");
    yt.append("tspan").attr("font-size", 14).attr("dy", -9).text("-1");
    yt.append("tspan").attr("dy", 9).text(")");

    // legend
    const lg = g.append("g").attr("transform", "translate(30,296)");
    lg.append("rect")
        .attr("width", 128).attr("height", 72)
        .attr("fill", "#fff")
        .attr("stroke", "#000")
        .attr("stroke-width", 1.2);
    ["nc", "noc", "pc"].forEach((key, i) => {
        lg.append("text").attr("x", 9).attr("y", 23 + i * 20)
            .attr("font-size", 21).attr("fill", colors[key]).text(legendLabels[i]);
        lg.append("text").attr("x", 58).attr("y", 23 + i * 20)
            .attr("font-size", 21).attr("fill", colors[key]).text(legendSuffix);
    });
}

panels.forEach(drawPanel);
</script>
</body>
</html>
